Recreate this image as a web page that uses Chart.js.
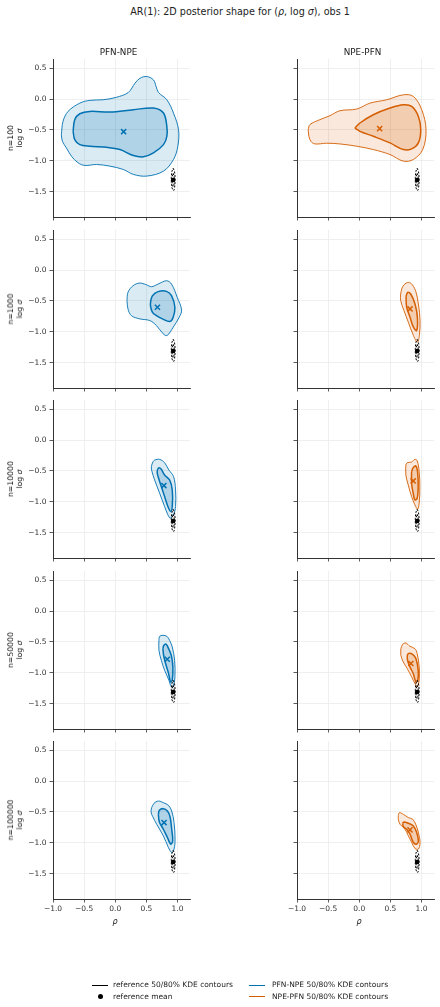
<!DOCTYPE html>
<html><head><meta charset="utf-8">
<script src="https://cdn.jsdelivr.net/npm/chart.js@4.4.1/dist/chart.umd.min.js"></script>
<style>
body{margin:0;background:#fff;width:440px;height:1007px;position:relative;overflow:hidden;font-family:"DejaVu Sans",sans-serif;color:#222}
.t{position:absolute;white-space:nowrap;transform:translate(-50%,-50%)}
.yl{position:absolute;white-space:nowrap;transform:translate(-50%,-50%) rotate(-90deg);text-align:center;font-size:7.7px;line-height:9px}
canvas{position:absolute}
.lg{position:absolute;font-size:7.5px;white-space:nowrap}
.ln{position:absolute;height:0;border-top:1.5px solid}
</style></head><body>
<div class="t" style="left:240px;top:11px;font-size:9.6px">AR(1): 2D posterior shape for (<i>ρ</i>, log <i>σ</i>), obs 1</div>
<script>
// ---------- data ----------
const xTicks = [-1, -0.5, 0, 0.5, 1];
const yTicks = [-1.5, -1, -0.5, 0, 0.5];
const sampleSizes = [100, 1000, 10000, 50000, 100000];
const methods = ['PFN-NPE', 'NPE-PFN'];

// reference posterior (same for every panel)
const refOuter = [[0.93,-1.12],[0.95,-1.17],[0.96,-1.27],[0.957,-1.39],[0.94,-1.48],[0.918,-1.46],[0.903,-1.38],[0.9,-1.27],[0.91,-1.17],[0.93,-1.12]];
const refInner = [[0.93,-1.2],[0.945,-1.26],[0.946,-1.36],[0.93,-1.42],[0.914,-1.36],[0.913,-1.26],[0.93,-1.2]];
const refMean = [0.93, -1.31];

// PFN-NPE contours
const pfn100Outer = [[-0.866,-0.575],[-0.839,-0.36],[-0.758,-0.199],[-0.57,-0.065],[-0.409,-0.02],[-0.194,-0.01],[0.02,0.03],[0.21,0.108],[0.317,0.258],[0.398,0.339],[0.505,0.366],[0.613,0.312],[0.656,0.204],[0.694,0.108],[0.828,-0.01],[0.935,-0.226],[1.016,-0.495],[1.005,-0.763],[0.935,-0.978],[0.774,-1.167],[0.505,-1.247],[0.29,-1.22],[0.129,-1.14],[-0.086,-1.086],[-0.301,-1.059],[-0.489,-1.075],[-0.597,-1.032],[-0.704,-0.925],[-0.785,-0.79],[-0.849,-0.683],[-0.866,-0.575]];
const pfn100Inner = [[-0.677,-0.522],[-0.651,-0.333],[-0.57,-0.237],[-0.409,-0.199],[-0.086,-0.21],[0.29,-0.172],[0.613,-0.145],[0.774,-0.226],[0.828,-0.441],[0.828,-0.602],[0.774,-0.737],[0.613,-0.871],[0.452,-0.935],[0.29,-0.914],[0.075,-0.817],[-0.14,-0.78],[-0.409,-0.763],[-0.57,-0.737],[-0.651,-0.656],[-0.677,-0.522]];
const pfn100Mean = [0.134, -0.527];

const pfn1000Outer = [[0.188,-0.495],[0.204,-0.36],[0.285,-0.253],[0.392,-0.21],[0.5,-0.237],[0.581,-0.269],[0.688,-0.226],[0.823,-0.172],[0.903,-0.226],[0.995,-0.441],[1.065,-0.645],[1.027,-0.763],[0.93,-0.925],[0.833,-1.059],[0.769,-1.032],[0.661,-0.898],[0.554,-0.817],[0.392,-0.79],[0.258,-0.737],[0.204,-0.629],[0.188,-0.495]];
const pfn1000Inner = [[0.57,-0.495],[0.597,-0.414],[0.688,-0.349],[0.823,-0.344],[0.903,-0.414],[0.957,-0.602],[0.93,-0.763],[0.876,-0.833],[0.758,-0.79],[0.661,-0.737],[0.597,-0.683],[0.565,-0.575],[0.57,-0.495]];
const pfn1000Mean = [0.677, -0.602];

const pfn10000Outer = [[0.606,-0.349],[0.632,-0.323],[0.712,-0.312],[0.792,-0.366],[0.861,-0.484],[0.936,-0.591],[0.968,-0.806],[0.968,-1.075],[0.936,-1.21],[0.883,-1.263],[0.845,-1.21],[0.792,-1.075],[0.712,-0.86],[0.632,-0.645],[0.59,-0.511],[0.579,-0.43],[0.606,-0.349]];
const pfn10000Inner = [[0.675,-0.484],[0.702,-0.446],[0.739,-0.473],[0.792,-0.565],[0.872,-0.645],[0.915,-0.806],[0.915,-1.075],[0.888,-1.156],[0.845,-1.075],[0.792,-0.914],[0.739,-0.753],[0.696,-0.618],[0.675,-0.538],[0.675,-0.484]];
const pfn10000Mean = [0.781, -0.737];

const pfn50000Outer = [[0.701,-0.473],[0.712,-0.409],[0.765,-0.392],[0.83,-0.409],[0.872,-0.473],[0.915,-0.581],[0.953,-0.796],[0.958,-1.065],[0.936,-1.199],[0.9,-1.226],[0.861,-1.118],[0.792,-0.957],[0.739,-0.796],[0.701,-0.634],[0.701,-0.473]];
const pfn50000Inner = [[0.765,-0.608],[0.781,-0.554],[0.819,-0.538],[0.856,-0.608],[0.899,-0.715],[0.925,-0.903],[0.915,-1.118],[0.888,-1.145],[0.856,-1.011],[0.808,-0.849],[0.776,-0.715],[0.765,-0.608]];
const pfn50000Mean = [0.835, -0.78];

const pfn100000Outer = [[0.584,-0.43],[0.622,-0.36],[0.692,-0.323],[0.772,-0.349],[0.853,-0.392],[0.906,-0.484],[0.944,-0.672],[0.96,-0.941],[0.944,-1.102],[0.906,-1.156],[0.853,-1.075],[0.772,-0.887],[0.665,-0.699],[0.601,-0.575],[0.574,-0.5],[0.584,-0.43]];
const pfn100000Inner = [[0.692,-0.538],[0.708,-0.473],[0.772,-0.446],[0.837,-0.484],[0.879,-0.575],[0.906,-0.78],[0.922,-0.968],[0.89,-1.022],[0.837,-0.914],[0.772,-0.78],[0.708,-0.661],[0.692,-0.538]];
const pfn100000Mean = [0.783, -0.672];

// NPE-PFN contours
const npe100Outer = [[-0.82,-0.495],[-0.794,-0.414],[-0.633,-0.333],[-0.472,-0.269],[-0.311,-0.188],[-0.043,-0.161],[0.172,-0.065],[0.44,-0.011],[0.708,0.07],[0.869,0.043],[1.003,-0.172],[1.072,-0.495],[1.019,-0.817],[0.869,-0.978],[0.708,-1.005],[0.493,-0.898],[0.225,-0.817],[-0.043,-0.763],[-0.311,-0.726],[-0.525,-0.715],[-0.713,-0.726],[-0.777,-0.683],[-0.809,-0.602],[-0.82,-0.495]];
const npe100Inner = [[-0.07,-0.468],[0.011,-0.387],[0.225,-0.253],[0.493,-0.145],[0.708,-0.091],[0.842,-0.118],[0.949,-0.28],[0.987,-0.495],[0.949,-0.71],[0.842,-0.806],[0.708,-0.817],[0.493,-0.71],[0.225,-0.602],[0.011,-0.522],[-0.07,-0.468]];
const npe100Mean = [0.327, -0.478];

const npe1000Outer = [[0.681,-0.306],[0.718,-0.237],[0.788,-0.199],[0.853,-0.237],[0.912,-0.36],[0.949,-0.548],[0.976,-0.817],[0.965,-1.059],[0.933,-1.167],[0.869,-1.059],[0.788,-0.844],[0.718,-0.656],[0.665,-0.495],[0.665,-0.387],[0.681,-0.306]];
const npe1000Inner = [[0.751,-0.43],[0.777,-0.36],[0.826,-0.387],[0.895,-0.548],[0.933,-0.763],[0.922,-0.978],[0.869,-0.925],[0.815,-0.763],[0.761,-0.602],[0.751,-0.43]];
const npe1000Mean = [0.815, -0.629];

const npe10000Outer = [[0.748,-0.403],[0.769,-0.366],[0.84,-0.355],[0.893,-0.312],[0.93,-0.333],[0.962,-0.511],[0.973,-0.753],[0.962,-1.022],[0.936,-1.118],[0.893,-1.048],[0.84,-0.914],[0.786,-0.726],[0.748,-0.565],[0.748,-0.403]];
const npe10000Inner = [[0.84,-0.511],[0.866,-0.446],[0.909,-0.419],[0.936,-0.511],[0.946,-0.753],[0.93,-0.941],[0.893,-0.968],[0.866,-0.86],[0.84,-0.699],[0.84,-0.511]];
const npe10000Mean = [0.866, -0.661];

const npe50000Outer = [[0.668,-0.608],[0.695,-0.538],[0.748,-0.516],[0.813,-0.57],[0.893,-0.608],[0.93,-0.688],[0.962,-0.903],[0.962,-1.118],[0.93,-1.226],[0.893,-1.172],[0.84,-1.065],[0.77,-0.93],[0.706,-0.823],[0.668,-0.715],[0.668,-0.608]];
const npe50000Inner = [[0.77,-0.731],[0.786,-0.688],[0.856,-0.699],[0.909,-0.769],[0.946,-0.957],[0.941,-1.118],[0.909,-1.145],[0.866,-1.011],[0.813,-0.903],[0.775,-0.796],[0.77,-0.731]];
const npe50000Mean = [0.829, -0.849];

const npe100000Outer = [[0.627,-0.554],[0.643,-0.511],[0.708,-0.538],[0.788,-0.591],[0.858,-0.618],[0.906,-0.699],[0.949,-0.833],[0.976,-0.995],[0.949,-1.102],[0.895,-1.091],[0.842,-0.995],[0.788,-0.887],[0.735,-0.78],[0.654,-0.699],[0.627,-0.618],[0.627,-0.554]];
const npe100000Inner = [[0.697,-0.683],[0.718,-0.661],[0.788,-0.683],[0.869,-0.726],[0.922,-0.833],[0.949,-0.968],[0.922,-1.022],[0.869,-0.995],[0.815,-0.86],[0.761,-0.78],[0.708,-0.737],[0.697,-0.683]];
const npe100000Mean = [0.815, -0.79];

const pfnOuter = [pfn100Outer, pfn1000Outer, pfn10000Outer, pfn50000Outer, pfn100000Outer];
const pfnInner = [pfn100Inner, pfn1000Inner, pfn10000Inner, pfn50000Inner, pfn100000Inner];
const pfnMean = [pfn100Mean, pfn1000Mean, pfn10000Mean, pfn50000Mean, pfn100000Mean];
const npeOuter = [npe100Outer, npe1000Outer, npe10000Outer, npe50000Outer, npe100000Outer];
const npeInner = [npe100Inner, npe1000Inner, npe10000Inner, npe50000Inner, npe100000Inner];
const npeMean = [npe100Mean, npe1000Mean, npe10000Mean, npe50000Mean, npe100000Mean];

// ---------- styling ----------
const colors = [[0,114,178],[213,94,0]];
const rgba = (c,a) => `rgba(${c[0]},${c[1]},${c[2]},${a})`;
const pts = arr => arr.map(p => ({x:p[0], y:p[1]}));
const fmt = v => (v < 0 ? '\u2212' : '') + Math.abs(v).toFixed(1);
const FONT = {family:'"DejaVu Sans", sans-serif', size:7.5};

const colLeft = [53, 297], plotW = 137, plotH = 158;
const padL = 50, padT = 10, padR = 10, padB = 30;

function addText(html, x, y, cls, style) {
  const d = document.createElement('div');
  d.className = cls; d.innerHTML = html;
  d.style.left = x + 'px'; d.style.top = y + 'px';
  if (style) d.style.cssText += style;
  document.body.appendChild(d);
}

function makePanel(row, col) {
  const c = colors[col];
  const outer = (col === 0 ? pfnOuter : npeOuter)[row];
  const inner = (col === 0 ? pfnInner : npeInner)[row];
  const mean = (col === 0 ? pfnMean : npeMean)[row];
  const L = colLeft[col];
  const T = Math.round(59.3 + 170.5 * row);
  const cv = document.createElement('canvas');
  cv.width = plotW + padL + padR; cv.height = plotH + padT + padB;
  cv.style.width = cv.width + 'px'; cv.style.height = cv.height + 'px';
  cv.style.left = (L - padL) + 'px'; cv.style.top = (T - padT) + 'px';
  document.body.appendChild(cv);
  const line = {showLine:true, pointRadius:0, tension:0.35};
  new Chart(cv, {
    type: 'scatter',
    data: {datasets: [
      {data:[{x:mean[0], y:mean[1]}], pointStyle:'crossRot', pointRadius:3.6, borderColor:rgba(c,1), borderWidth:1.5, backgroundColor:rgba(c,1), order:1},
      {data:[{x:refMean[0], y:refMean[1]}], pointStyle:'circle', pointRadius:2.3, backgroundColor:'#000', borderWidth:0, order:2},
      {...line, data:pts(refInner), borderColor:'#000', borderWidth:1, borderDash:[2,1.5], fill:false, order:3},
      {...line, data:pts(refOuter), borderColor:'#000', borderWidth:1, borderDash:[2,1.5], fill:false, order:3},
      {...line, data:pts(inner), borderColor:rgba(c,1), borderWidth:1.5, backgroundColor:rgba(c,0.2), fill:'shape', order:4},
      {...line, data:pts(outer), borderColor:rgba(c,1), borderWidth:0.9, backgroundColor:rgba(c,0.14), fill:'shape', order:5}
    ]},
    options: {
      responsive:false, animation:false, devicePixelRatio:1,
      layout:{padding:{left:0, right:padR, top:padT, bottom:0}},
      plugins:{legend:{display:false}, tooltip:{enabled:false}},
      scales: {
        x: {type:'linear', min:-1, max:1.2,
            afterBuildTicks: s => { s.ticks = xTicks.map(v => ({value:v})); },
            afterFit: s => { s.height = padB; },
            grid:{color:'#ebebeb', lineWidth:0.8, tickColor:'#333', tickLength:3.5, drawTicks:true},
            border:{display:true, color:'#333', width:1},
            ticks:{display: row === 4, font:FONT, color:'#333', padding:2, maxRotation:0, autoSkip:false, callback:v => fmt(v)}},
        y: {type:'linear', min:-1.91, max:0.65,
            afterBuildTicks: s => { s.ticks = yTicks.map(v => ({value:v})); },
            afterFit: s => { s.width = padL; },
            grid:{color:'#ebebeb', lineWidth:0.8, tickColor:'#333', tickLength:3.5, drawTicks:true},
            border:{display:true, color:'#333', width:1},
            ticks:{display: col === 0, font:FONT, color:'#333', padding:3, autoSkip:false, callback:v => fmt(v)}}
      }
    }
  });
  if (col === 0) {
    addText('n=' + sampleSizes[row] + '<br>log <i>σ</i>', 15, T + plotH / 2, 'yl');
  }
  if (row === 0) {
    addText(methods[col], L + plotW / 2 - 3, 51.5, 't', 'font-size:8.8px');
  }
  if (row === 4) {
    addText('<i>ρ</i>', L + 62, 921, 't', 'font-size:8px');
  }
}

for (let r = 0; r < sampleSizes.length; r++) for (let c = 0; c < 2; c++) makePanel(r, c);
</script>
<div class="ln" style="left:92px;top:984.5px;width:16px;border-color:#000"></div>
<div class="lg" style="left:113px;top:980px">reference 50/80% KDE contours</div>
<div style="position:absolute;left:97.5px;top:993.5px;width:5px;height:5px;border-radius:50%;background:#000"></div>
<div class="lg" style="left:113px;top:991.5px">reference mean</div>
<div class="ln" style="left:249px;top:984.5px;width:16px;border-color:#0072B2"></div>
<div class="lg" style="left:272px;top:980px">PFN-NPE 50/80% KDE contours</div>
<div class="ln" style="left:249px;top:995.5px;width:16px;border-color:#D55E00"></div>
<div class="lg" style="left:272px;top:991.5px">NPE-PFN 50/80% KDE contours</div>
</body></html>
